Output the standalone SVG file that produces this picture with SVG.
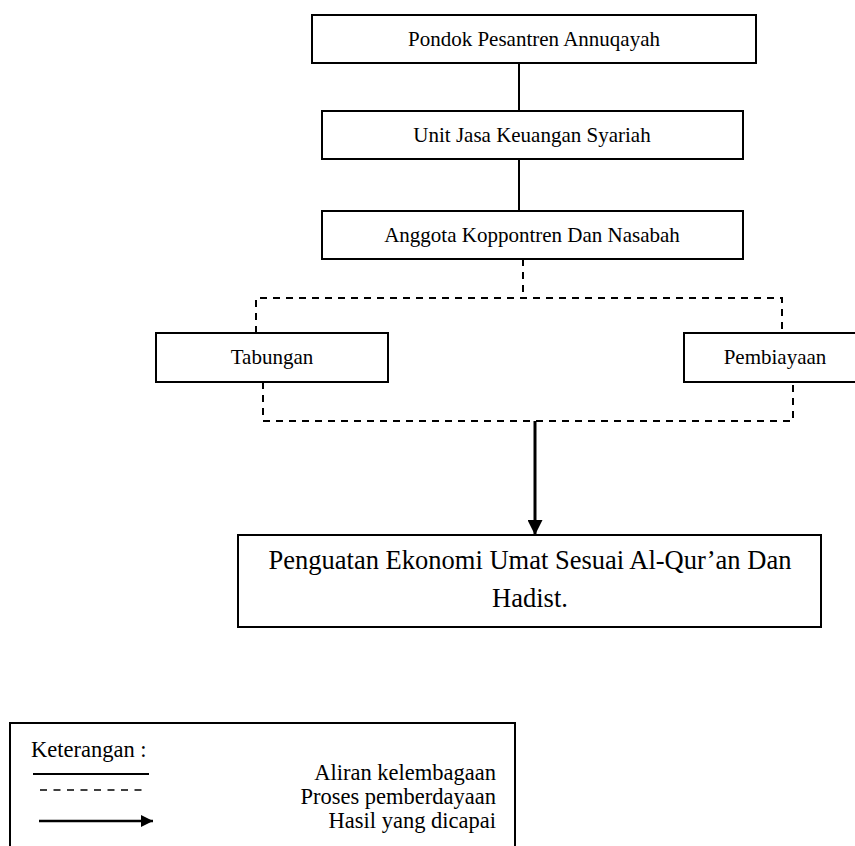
<svg xmlns="http://www.w3.org/2000/svg" width="855" height="846" viewBox="0 0 855 846">
<style>
.box{fill:#fff;stroke:#000;stroke-width:2}
.t{font-family:"Liberation Serif","Times New Roman",serif;font-size:21px;fill:#000;text-anchor:middle}
.big{font-size:26.5px}
.solid{fill:none;stroke:#000;stroke-width:2}
.dash{fill:none;stroke:#000;stroke-width:2;stroke-dasharray:7 6}
.lg{font-family:"Liberation Serif","Times New Roman",serif;font-size:22.5px;fill:#000}
</style>
<defs>
<marker id="ah" viewBox="0 0 10 10" refX="10" refY="5" markerWidth="5" markerHeight="5" markerUnits="strokeWidth" orient="auto">
<path d="M0,0 L10,5 L0,10 Z" fill="#000"/>
</marker>
</defs>
<rect width="855" height="846" fill="#fff"/>
<g id="connectors">
<line class="solid" x1="519" y1="63" x2="519" y2="111"/>
<line class="solid" x1="519" y1="159" x2="519" y2="211"/>
<path class="dash" d="M523,259 V298 M256,333 V298 H782 V333"/>
<path class="dash" d="M263,382 V421 H793 V382"/>
<line x1="535" y1="421" x2="535" y2="535" stroke="#000" stroke-width="3" marker-end="url(#ah)"/>
</g>
<g id="n1"><rect class="box" x="312" y="15" width="444" height="48"/><text class="t" x="534" y="46">Pondok Pesantren Annuqayah</text></g>
<g id="n2"><rect class="box" x="322" y="111" width="421" height="48"/><text class="t" x="532" y="142">Unit Jasa Keuangan Syariah</text></g>
<g id="n3"><rect class="box" x="322" y="211" width="421" height="48"/><text class="t" x="532" y="242">Anggota Koppontren Dan Nasabah</text></g>
<g id="n4"><rect class="box" x="156" y="333" width="232" height="49"/><text class="t" x="272" y="364">Tabungan</text></g>
<g id="n5"><rect class="box" x="684" y="333" width="182" height="49"/><text class="t" x="775" y="364">Pembiayaan</text></g>
<g id="n6"><rect class="box" x="238" y="535" width="583" height="92"/><text class="t big" x="530" y="569">Penguatan Ekonomi Umat Sesuai Al-Qur’an Dan</text><text class="t big" x="530" y="607">Hadist.</text></g>
<g id="legend">
<rect class="box" x="10" y="723" width="505" height="140"/>
<text class="lg" x="31" y="757">Keterangan :</text>
<line x1="33" y1="774" x2="149" y2="774" stroke="#000" stroke-width="2"/>
<line x1="40" y1="790" x2="146" y2="790" stroke="#000" stroke-width="1.5" stroke-dasharray="7 6.5"/>
<line x1="39" y1="821" x2="153" y2="821" stroke="#000" stroke-width="2.5" marker-end="url(#ah)"/>
<text class="lg" x="496" y="780" text-anchor="end">Aliran kelembagaan</text>
<text class="lg" x="496" y="804" text-anchor="end">Proses pemberdayaan</text>
<text class="lg" x="496" y="828" text-anchor="end">Hasil yang dicapai</text>
</g>
</svg>
